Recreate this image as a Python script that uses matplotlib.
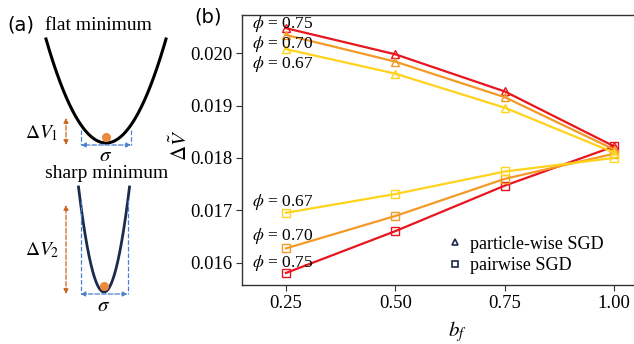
import numpy as np
import matplotlib

matplotlib.use("Agg")
import matplotlib.pyplot as plt
from matplotlib.lines import Line2D

plt.rcParams["mathtext.fontset"] = "stix"

# panel (b) data
bf = [0.25, 0.50, 0.75, 1.00]
phis = ["0.75", "0.70", "0.67"]
colors = ["#e8141e", "#f39a26", "#ffd21c"]
particle = {
    "0.75": [0.02048, 0.01998, 0.01927, 0.01822],
    "0.70": [0.02035, 0.01984, 0.01916, 0.01816],
    "0.67": [0.02008, 0.01961, 0.01896, 0.01810],
}
pairwise = {
    "0.75": [0.01580, 0.01660, 0.01747, 0.01822],
    "0.70": [0.01627, 0.01689, 0.01760, 0.01808],
    "0.67": [0.01695, 0.01731, 0.01774, 0.01800],
}
xticks = [0.25, 0.50, 0.75, 1.00]
yticks = [0.016, 0.017, 0.018, 0.019, 0.020]

# panel (a) schematic, in pixel units of the left strip
flat_vertex, flat_half, flat_depth = (106, 143), 60, 104
sharp_vertex, sharp_half, sharp_depth = (104, 292), 25.5, 105

fig = plt.figure(figsize=(6.34, 3.44), dpi=100)

# ---- (a) ----
axa = fig.add_axes([0, 0, 200 / 634, 1])
axa.set_xlim(0, 200)
axa.set_ylim(344, 0)
axa.axis("off")

serif = "Liberation Serif"
blue = "#4a80cc"
brown = "#c8651e"
dot = "#ea8a3c"


def well(vertex, half, depth, color, lw, sig_y, dv_top, dv_text, dv_label, sig_half):
    vx, vy = vertex
    xs = np.linspace(vx - half, vx + half, 200)
    ys = vy - depth * ((xs - vx) / half) ** 2
    axa.plot(xs, ys, color=color, lw=lw)
    axa.plot(vx, vy - 6, "o", color=dot, ms=5.5)
    for sx in (vx - sig_half, vx + sig_half):
        axa.plot([sx, sx], [dv_top[1], vy + 2], ls="--", color=blue, lw=0.9)
    axa.annotate("", xy=(vx - sig_half, vy + 2), xytext=(vx + sig_half, vy + 2),
                 arrowprops=dict(arrowstyle="<|-|>", color=blue, lw=0.9, ls="--",
                                 mutation_scale=7, shrinkA=0, shrinkB=0))
    axa.annotate("", xy=(66, dv_top[0]), xytext=(66, vy + 2),
                 arrowprops=dict(arrowstyle="<|-|>", color=brown, lw=0.9, ls="--",
                                 mutation_scale=7, shrinkA=0, shrinkB=0))
    axa.text(42, dv_label, dv_text, fontsize=14, ha="center", va="center")
    axa.text(vx, sig_y, r"$\sigma$", fontsize=15, ha="center", va="center")


well(flat_vertex, flat_half, flat_depth, "black", 2.2, 155, (118, 130),
     r"$\Delta V_1$", 133, 25)
well(sharp_vertex, sharp_half, sharp_depth, "#1c2b4c", 2.0, 305, (205, 200),
     r"$\Delta V_2$", 250, 23.5)

axa.text(98, 25, "flat minimum", family=serif, fontsize=14, ha="center", va="center")
axa.text(107, 173, "sharp minimum", family=serif, fontsize=14, ha="center", va="center")
fig.text(7 / 634, 1 - 25 / 344, "(a)", fontsize=14, ha="left", va="center")
fig.text(194 / 634, 1 - 17 / 344, "(b)", fontsize=14, ha="left", va="center")

# ---- (b) ----
ax = fig.add_axes([242 / 634, 1 - 285 / 344, 430 / 634, 270 / 344])
for phi, c in zip(phis, colors):
    ax.plot(bf, particle[phi], color=c, lw=1.6, marker="^", ms=6, mfc="none", mew=1.0)
    ax.plot(bf, pairwise[phi], color=c, lw=1.6, marker="s", ms=5.5, mfc="none", mew=1.0)

ax.set_xlim(0.1495, 1.132)
ax.set_ylim(0.01557, 0.020732)
ax.set_xticks(xticks)
ax.set_xticklabels(["%.2f" % v for v in xticks])
ax.set_yticks(yticks)
ax.set_yticklabels(["%.3f" % v for v in yticks])
for lab in ax.get_xticklabels() + ax.get_yticklabels():
    lab.set_family(serif)
    lab.set_fontsize(13.5)
ax.tick_params(length=4, width=0.8, color="#333333", pad=3)
for s in ax.spines.values():
    s.set_color("#333333")
    s.set_linewidth(1.0)

ax.set_ylabel(r"$\Delta\tilde{V}$", fontsize=15)
ax.yaxis.set_label_coords(-0.118, 0.519)
ax.set_xlabel(r"$b_f$", fontsize=15)
ax.xaxis.set_label_coords(0.5, -0.125)

top_y = [24, 44, 64]
bot_y = [263, 236, 202]
for phi, ty, by in zip(phis, top_y, bot_y):
    for yy in (ty, by):
        fig.text(252 / 634, 1 - yy / 344, r"$\phi$ = " + phi, family=serif,
                 fontsize=12.5, ha="left", va="center")

navy = "#1c2b4c"
handles = [
    Line2D([], [], ls="none", marker="^", color=navy, mfc="none", ms=5, mew=1.2),
    Line2D([], [], ls="none", marker="s", color=navy, mfc="none", ms=5, mew=1.2),
]
fig.legend(handles, ["particle-wise SGD", "pairwise SGD"], loc="center left",
           bbox_to_anchor=(428 / 634, 1 - 255 / 344), frameon=False,
           prop={"family": serif, "size": 13}, handletextpad=0.2,
           handlelength=1.2, labelspacing=0.25)

fig.savefig("out.png", dpi=100)
